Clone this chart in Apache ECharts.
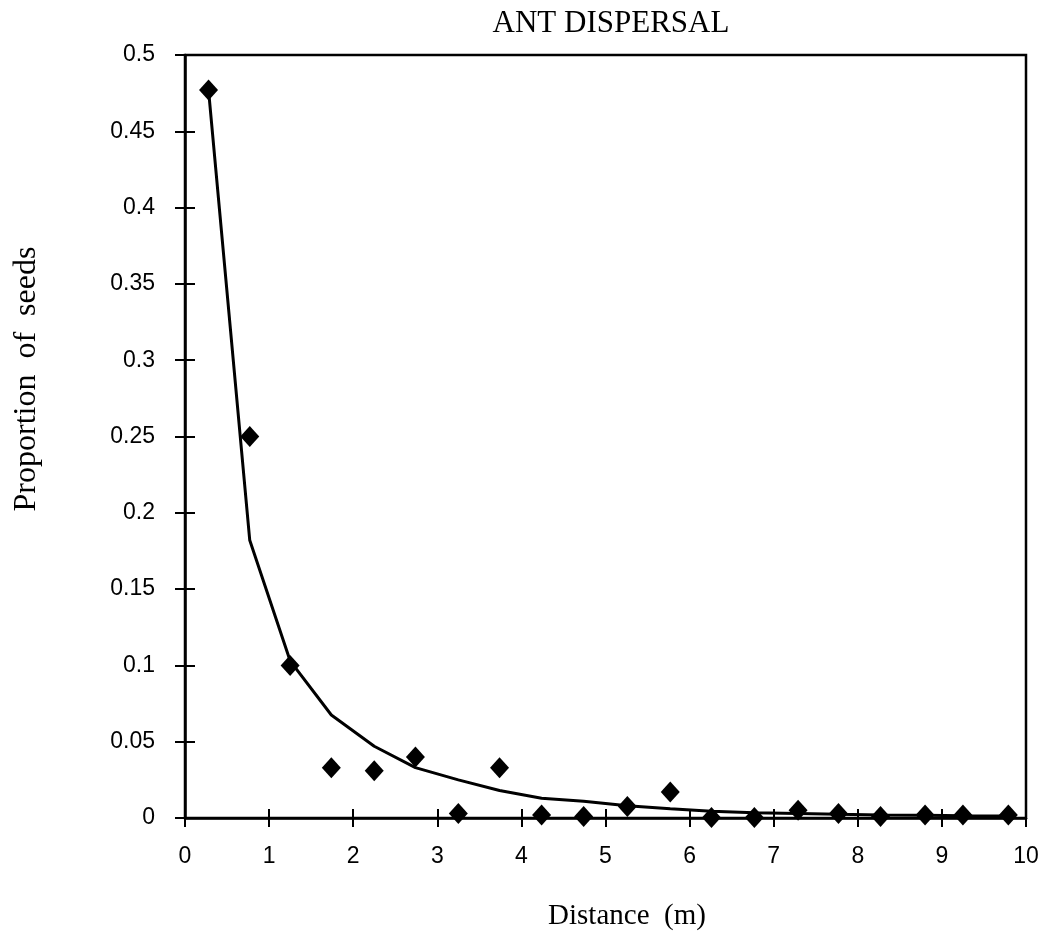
<!DOCTYPE html>
<html><head><meta charset="utf-8">
<script src="https://cdn.jsdelivr.net/npm/echarts@6/dist/echarts.min.js"></script>
<style>html,body{margin:0;padding:0;background:#fff}#c{width:1043px;height:940px}</style>
</head><body><div id="c"></div>
<script>
const distance = [0.28, 0.77, 1.25, 1.74, 2.25, 2.74, 3.25, 3.74, 4.24, 4.74, 5.26, 5.77, 6.26, 6.77, 7.29, 7.77, 8.27, 8.8, 9.25, 9.79];
const observed = [0.477, 0.25, 0.1, 0.033, 0.031, 0.04, 0.003, 0.033, 0.002, 0.001, 0.0075, 0.017, 0.0003, 0.0003, 0.005, 0.003, 0.001, 0.002, 0.002, 0.002];
const fitted = [0.477, 0.182, 0.103, 0.0675, 0.047, 0.033, 0.025, 0.018, 0.013, 0.011, 0.008, 0.006, 0.0045, 0.0035, 0.003, 0.0025, 0.002, 0.0018, 0.0015, 0.0013];
const title = 'ANT DISPERSAL';
const xName = 'Distance  (m)';
const yName = 'Proportion  of  seeds';

const chart = echarts.init(document.getElementById('c'));
const pts = distance.map((x,i)=>[x, observed[i]]);
const line = distance.map((x,i)=>[x, fitted[i]]);
const labelFont = {color:'#000', fontFamily:'Liberation Sans, Arial, sans-serif', fontSize:23};
const serif = 'Liberation Serif, Times New Roman, serif';
chart.setOption({
  animation:false,
  backgroundColor:'#fff',
  title:{text:title, left:606, top:3, textAlign:'center',
    textStyle:{fontFamily:serif, fontWeight:'normal', fontSize:31, color:'#000'}},
  graphic:[
    {type:'text', x:627, y:916, style:{text:xName, font:'29px ' + serif, fill:'#000', textAlign:'center', textVerticalAlign:'middle'}},
    {type:'text', x:27, y:379, rotation:Math.PI/2, style:{text:yName, font:'32px ' + serif, fill:'#000', textAlign:'center', textVerticalAlign:'middle'}}
  ],
  grid:{left:185, right:17, top:55, bottom:122, show:true, borderColor:'#000', borderWidth:2.5, backgroundColor:'transparent'},
  xAxis:[{type:'value', min:0, max:10, interval:1,
    axisLine:{show:true, onZero:false, lineStyle:{color:'#000', width:2.5}},
    axisTick:{show:true, length:9, lineStyle:{color:'#000', width:2}},
    axisLabel:Object.assign({margin:27}, labelFont),
    splitLine:{show:false}},
   {type:'value', min:0, max:10, interval:1, position:'bottom',
    axisLine:{show:false}, axisTick:{show:true, inside:true, length:9, lineStyle:{color:'#000', width:2}},
    axisLabel:{show:false}, splitLine:{show:false}}],
  yAxis:[{type:'value', min:0, max:0.5, interval:0.05,
    axisLine:{show:true, onZero:false, lineStyle:{color:'#000', width:2.5}},
    axisTick:{show:true, length:10, lineStyle:{color:'#000', width:2}},
    axisLabel:Object.assign({margin:30, formatter:v=>String(+v.toFixed(2))}, labelFont),
    splitLine:{show:false}},
   {type:'value', min:0, max:0.5, interval:0.05, position:'left',
    axisLine:{show:false}, axisTick:{show:true, inside:true, length:10, lineStyle:{color:'#000', width:2}},
    axisLabel:{show:false}, splitLine:{show:false}}],
  series:[
    {type:'line', data:line, showSymbol:false, symbol:'none', lineStyle:{color:'#000', width:3}, z:2},
    {type:'scatter', data:pts, symbol:'diamond', symbolSize:[19,21], itemStyle:{color:'#000', opacity:1}, z:3}
  ]
});
</script></body></html>
